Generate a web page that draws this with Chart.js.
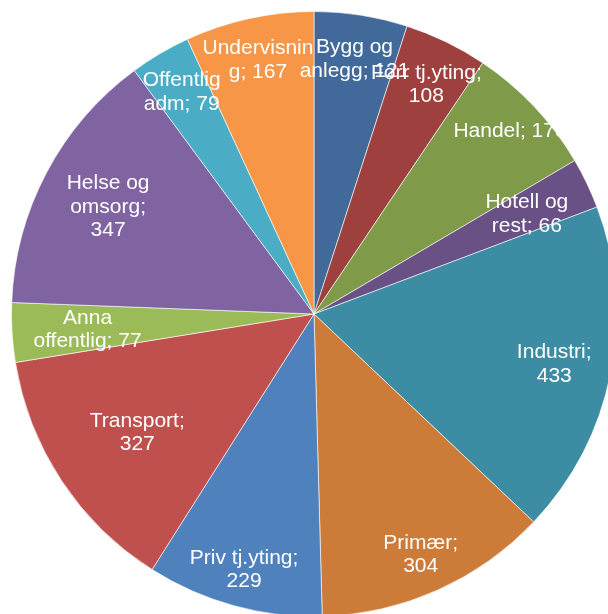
<!DOCTYPE html>
<html>
<head>
<meta charset="utf-8">
<script src="https://cdn.jsdelivr.net/npm/chart.js@4"></script>
<style>
  html, body { margin: 0; padding: 0; background: #fff; overflow: hidden; }
  #wrap { position: absolute; left: 0; top: 0; }
</style>
</head>
<body>
<div id="wrap"><canvas id="pie" width="628" height="628"></canvas></div>
<script>
// Sectors, clockwise from 12 o'clock
const categories = ['Bygg og anlegg', 'Forr tj.yting', 'Handel', 'Hotell og rest', 'Industri', 'Primær',
    'Priv tj.yting', 'Transport', 'Anna offentlig', 'Helse og omsorg', 'Offentlig adm', 'Undervisning'];
const values = [121, 108, 173, 66, 433, 304, 229, 327, 77, 347, 79, 167];
// how each data label wraps, {v} = value
const labelText = ['Bygg og\nanlegg; {v}', 'Forr tj.yting;\n{v}', 'Handel; {v}', 'Hotell og\nrest; {v}',
    'Industri;\n{v}', 'Primær;\n{v}', 'Priv tj.yting;\n{v}', 'Transport;\n{v}', 'Anna\noffentlig; {v}',
    'Helse og\nomsorg;\n{v}', 'Offentlig\nadm; {v}', 'Undervisnin\ng; {v}'];
const colors = ['#416a9b', '#9e413e', '#7f9a48', '#695185', '#3c8da3', '#cc7b38',
    '#4f81bd', '#c0504d', '#9bbb59', '#8064a2', '#4bacc6', '#f79646'];

// label distance from centre, as part of radius (Excel "best fit")
const labelRadius = [0.86, 0.85, 0.89, 0.78, 0.81, 0.865, 0.87, 0.70, 0.75, 0.77, 0.86, 0.865];

const sliceLabels = {
    id: 'sliceLabels',
    afterDatasetsDraw(chart) {
        const ctx = chart.ctx;
        const arcs = chart.getDatasetMeta(0).data;
        ctx.save();
        ctx.fillStyle = '#ffffff';
        ctx.font = '21px "Liberation Sans", Arial, sans-serif';
        ctx.textAlign = 'center';
        ctx.textBaseline = 'middle';
        arcs.forEach((arc, i) => {
            const mid = (arc.startAngle + arc.endAngle) / 2;
            const r = arc.outerRadius * labelRadius[i];
            const x = arc.x + Math.cos(mid) * r;
            const y = arc.y + Math.sin(mid) * r + 2;
            const lines = labelText[i].replace('{v}', values[i]).split('\n');
            const lh = 23.5;
            lines.forEach((ln, k) => {
                ctx.fillText(ln, x, y + (k - (lines.length - 1) / 2) * lh);
            });
        });
        ctx.restore();
    }
};

new Chart(document.getElementById('pie'), {
    type: 'pie',
    data: {
        labels: categories,
        datasets: [{
            data: values,
            backgroundColor: colors,
            borderColor: 'rgba(255,255,255,0.6)',
            borderWidth: 1,
            hoverOffset: 0
        }]
    },
    options: {
        responsive: false,
        animation: false,
        layout: { padding: 11 },
        plugins: {
            legend: { display: false },
            tooltip: { enabled: false }
        }
    },
    plugins: [sliceLabels]
});
</script>
</body>
</html>
